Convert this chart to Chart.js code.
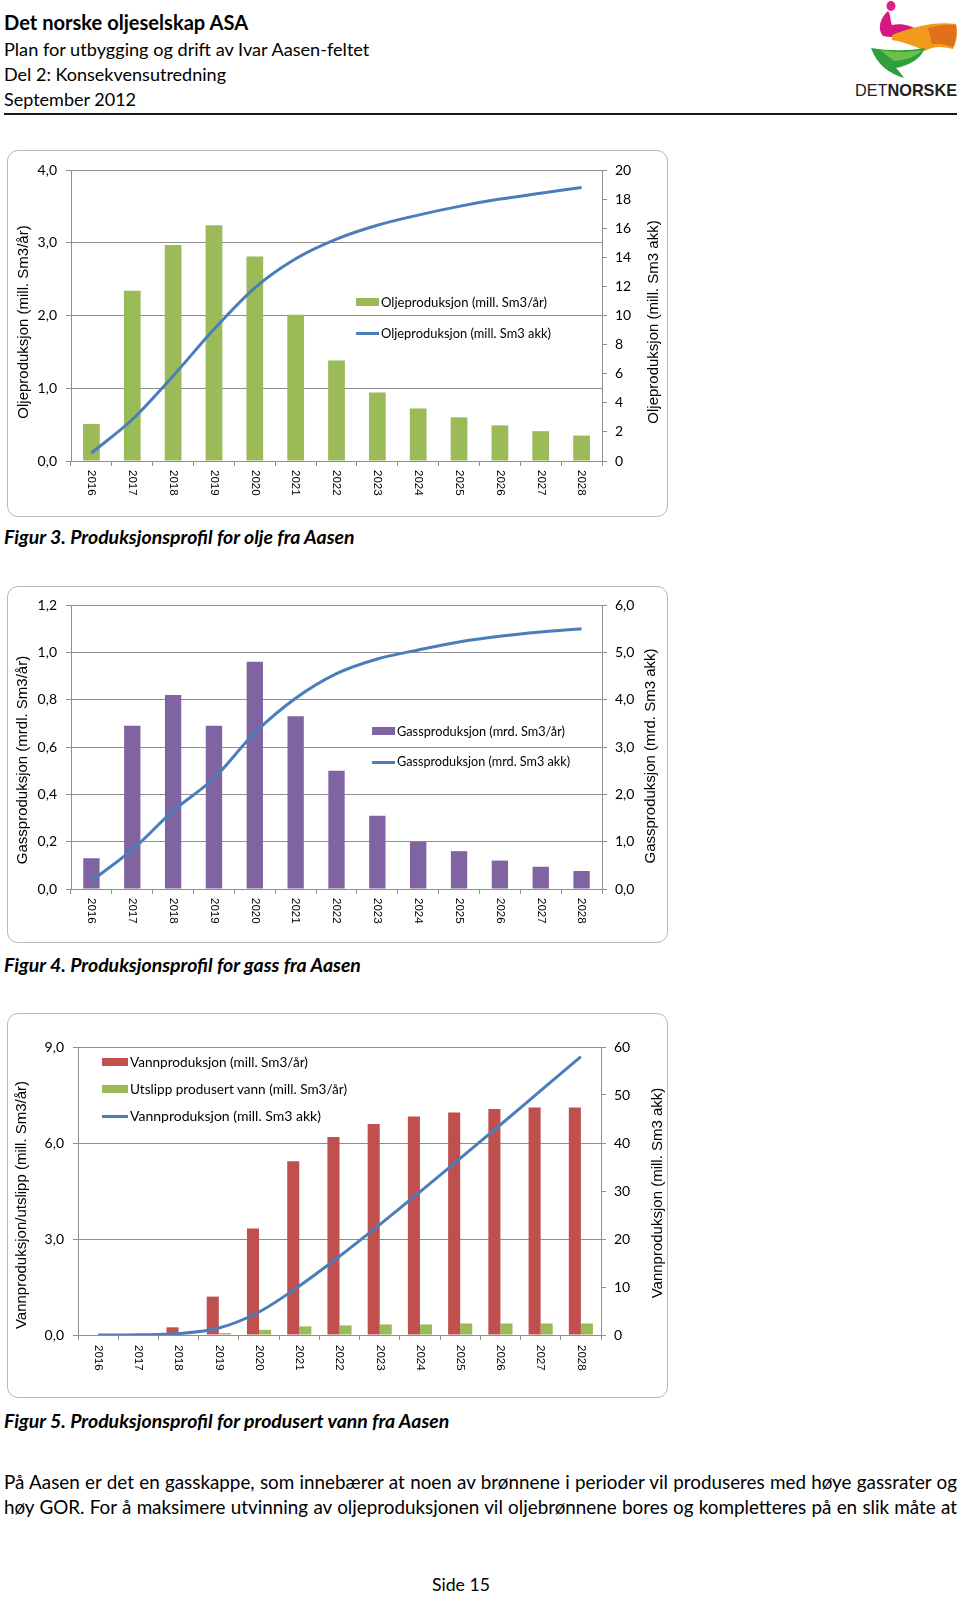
<!DOCTYPE html>
<html><head><meta charset="utf-8">
<script src="https://cdn.jsdelivr.net/npm/chart.js@4.4.0/dist/chart.umd.min.js"></script>
<style>
body{margin:0;width:960px;height:1597px;background:#fff;position:relative;overflow:hidden;font-family:Lato,"Open Sans",sans-serif;color:#000}
.t{position:absolute;white-space:nowrap;line-height:1}
.box{position:absolute;border:1.5px solid #b8b8b8;border-radius:11px;box-sizing:border-box}
canvas{position:absolute}
.sw{position:absolute}
.lt{position:absolute;white-space:nowrap;font-size:14px;line-height:16px}
.cap{font-weight:bold;font-style:italic;font-size:18px}
.par{position:absolute;left:4px;width:953px;font-size:18px;line-height:20px;white-space:nowrap;text-align:left}
.par.j{text-align:justify;text-align-last:justify}
</style>
</head><body>

<div class="t" data-w="244" style="left:4px;top:12px;font-size:21px;font-weight:bold">Det norske oljeselskap ASA</div>
<div class="t" data-w="365" style="left:4px;top:40px;font-size:18px">Plan for utbygging og drift av Ivar Aasen-feltet</div>
<div class="t" data-w="222" style="left:4px;top:65px;font-size:18px">Del 2: Konsekvensutredning</div>
<div class="t" data-w="132" style="left:4px;top:90px;font-size:18px">September 2012</div>
<div style="position:absolute;left:4px;top:113px;width:953px;height:2px;background:#1a1a1a"></div>

<svg style="position:absolute;left:840px;top:0" width="120" height="82" viewBox="0 0 120 82">
  <ellipse cx="51" cy="6" rx="4.5" ry="5" fill="#e0218a"/>
  <path d="M48 11 C40 18 37 29 43 36 C54 39 68 35 79 31 C72 25 60 23 52 25 C50 20 51 15 48 11 Z" fill="#d6177f"/>
  <path d="M52 35 C70 28 92 21 116 24 C118 32 117 41 113 49 C102 46 93 46 85 51 C75 46 64 42 52 40 Z" fill="#f29a1d"/>
  <path d="M88 28 C98 25 108 24 116 25 C117 33 116 41 113 47 C106 44 98 43 92 44 Z" fill="#e0701b"/>
  <path d="M31 48 C50 51 68 51 85 48 C81 58 71 65 56 68 C60 72 62 75 64 78 C50 74 37 65 31 48 Z" fill="#2f9e3e"/>
  <path d="M40 50 C56 53 70 52 82 50 C76 57 66 60 54 61 Z" fill="#6cc04a"/>
</svg>
<div class="t" data-w="102" style="left:855px;top:82px;font-size:15.5px;font-family:'Liberation Sans',Arial,sans-serif;color:#222">DET<b>NORSKE</b></div>

<div class="box" style="left:7px;top:150px;width:661px;height:367px"></div>
<canvas id="c1" width="660" height="365" style="left:8px;top:151px"></canvas>
<div class="t cap" data-w="351" style="left:4px;top:527px">Figur 3. Produksjonsprofil for olje fra Aasen</div>

<div class="box" style="left:7px;top:586px;width:661px;height:357px"></div>
<canvas id="c2" width="660" height="355" style="left:8px;top:587px"></canvas>
<div class="t cap" data-w="357" style="left:4px;top:955px">Figur 4. Produksjonsprofil for gass fra Aasen</div>

<div class="box" style="left:7px;top:1013px;width:661px;height:385px"></div>
<canvas id="c3" width="660" height="383" style="left:8px;top:1014px"></canvas>
<div class="t cap" data-w="445" style="left:4px;top:1411px">Figur 5. Produksjonsprofil for produsert vann fra Aasen</div>

<div class="par" style="top:1472px"><span>På Aasen er det en gasskappe, som innebærer at noen av brønnene i perioder vil produseres med høye gassrater og</span></div>
<div class="par" style="top:1497px"><span>høy GOR. For å maksimere utvinning av oljeproduksjonen vil oljebrønnene bores og kompletteres på en slik måte at</span></div>
<div class="t" data-w="58" style="left:432px;top:1576px;font-size:18px">Side 15</div>

<div id="legends"></div>

<script>
// ---- data ----
const years = ['2016','2017','2018','2019','2020','2021','2022','2023','2024','2025','2026','2027','2028'];
const oilAnnual = [0.51, 2.34, 2.97, 3.24, 2.81, 2.01, 1.38, 0.94, 0.72, 0.60, 0.49, 0.41, 0.35];
const oilCum    = [0.55, 2.85, 5.85, 9.05, 11.9, 13.9, 15.25, 16.2, 16.9, 17.5, 18.0, 18.4, 18.8];
const gasAnnual = [0.13, 0.69, 0.82, 0.69, 0.96, 0.73, 0.50, 0.31, 0.20, 0.16, 0.12, 0.094, 0.076];
const gasCum    = [0.17, 0.83, 1.65, 2.34, 3.3, 4.03, 4.55, 4.86, 5.05, 5.22, 5.34, 5.43, 5.5];
const waterAnnual    = [0, 0, 0.24, 1.20, 3.33, 5.43, 6.19, 6.59, 6.83, 6.95, 7.06, 7.11, 7.11];
const waterDischarge = [0, 0, 0.01, 0.06, 0.16, 0.27, 0.30, 0.33, 0.33, 0.36, 0.36, 0.36, 0.36];
const waterCum       = [0, 0.05, 0.3, 1.45, 4.8, 10.2, 16.4, 23.0, 29.8, 36.8, 43.8, 50.9, 58.0];

const labels = {
  oilA: 'Oljeproduksjon (mill. Sm3/år)', oilC: 'Oljeproduksjon (mill. Sm3 akk)',
  gasA: 'Gassproduksjon (mrd. Sm3/år)', gasC: 'Gassproduksjon (mrd. Sm3 akk)',
  watA: 'Vannproduksjon (mill. Sm3/år)', watD: 'Utslipp produsert vann (mill. Sm3/år)', watC: 'Vannproduksjon (mill. Sm3 akk)'
};

const GREEN='#9BBB59', PURPLE='#8064A2', RED='#C0504D', BLUE='#4A7EBB', GRID='#8f8f8f';
const CAL = "Lato,'Open Sans',sans-serif";
const ARIAL = "'Liberation Sans',Arial,sans-serif";
const f1 = v => Number(v).toFixed(1).replace('.', ',');
const f0 = v => String(Math.round(v));

const decor = {
  id:'decor',
  afterDraw(chart, args, o){
    const ctx = chart.ctx, xs = chart.scales.x, ca = chart.chartArea;
    ctx.save();
    ctx.fillStyle = '#000';
    ctx.font = '11.5px ' + ARIAL;
    ctx.textAlign = 'left'; ctx.textBaseline = 'middle';
    chart.data.labels.forEach((lab, i) => {
      ctx.save();
      ctx.translate(xs.getPixelForValue(i), ca.bottom + o.gap);
      ctx.rotate(Math.PI / 2);
      ctx.fillText(lab, 0, 0);
      ctx.restore();
    });
    ctx.font = '15px ' + ARIAL;
    ctx.textAlign = 'center';
    [[o.lt, o.lx, o.ly], [o.rt, o.rx, o.ry]].forEach(([t, x, y]) => {
      ctx.save(); ctx.translate(x, y); ctx.rotate(-Math.PI / 2); ctx.fillText(t, 0, 0); ctx.restore();
    });
    ctx.restore();
  }
};

function build(id, datasets, p){
  new Chart(document.getElementById(id), {
    type: 'bar',
    data: { labels: years, datasets },
    options: {
      responsive:false, animation:false, devicePixelRatio:1,
      layout:{ padding:{ top:p.top, left:0, right:0, bottom:0 } },
      plugins:{ legend:{display:false}, tooltip:{enabled:false}, decor:p.decor },
      scales:{
        x:{ offset:true, grid:{ offset:true, drawOnChartArea:false, drawTicks:true, tickLength:5, color:GRID },
            border:{ color:GRID }, ticks:{ display:false }, afterFit(s){ s.height = p.xh; } },
        y:{ position:'left', min:0, max:p.lmax,
            ticks:{ stepSize:p.lstep, callback:p.lfmt, font:{family:CAL, size:14}, color:'#000', padding:9 },
            grid:{ color:GRID, tickLength:5 }, border:{ color:GRID }, afterFit(s){ s.width = p.lw; } },
        y2:{ position:'right', min:0, max:p.rmax,
            ticks:{ stepSize:p.rstep, callback:p.rfmt, font:{family:CAL, size:14}, color:'#000', padding:8 },
            grid:{ drawOnChartArea:false, color:GRID, tickLength:5 }, border:{ color:GRID }, afterFit(s){ s.width = p.rw; } }
      }
    },
    plugins:[decor]
  });
}

const lineDs = (label, data) => ({ type:'line', label, data, yAxisID:'y2', borderColor:BLUE, borderWidth:3,
  pointRadius:0, cubicInterpolationMode:'monotone', order:0 });

build('c1', [
  { label:labels.oilA, data:oilAnnual, backgroundColor:GREEN, yAxisID:'y', barPercentage:0.41, categoryPercentage:1, order:1 },
  lineDs(labels.oilC, oilCum)
], { top:19, xh:55, lw:63, rw:66, lmax:4, lstep:1, lfmt:f1, rmax:20, rstep:2, rfmt:f0,
     decor:{ gap:9, lt:'Oljeproduksjon (mill. Sm3/år)', lx:16, ly:171, rt:'Oljeproduksjon (mill. Sm3 akk)', rx:646, ry:171 } });

build('c2', [
  { label:labels.gasA, data:gasAnnual, backgroundColor:PURPLE, yAxisID:'y', barPercentage:0.4, categoryPercentage:1, order:1 },
  lineDs(labels.gasC, gasCum)
], { top:18, xh:53, lw:63, rw:66, lmax:1.2, lstep:0.2, lfmt:f1, rmax:6, rstep:1, rfmt:f1,
     decor:{ gap:9, lt:'Gassproduksjon (mrdl. Sm3/år)', lx:15, ly:173, rt:'Gassproduksjon (mrd. Sm3 akk)', rx:643, ry:169 } });

build('c3', [
  { label:labels.watA, data:waterAnnual, backgroundColor:RED, yAxisID:'y', barPercentage:1, categoryPercentage:0.6, order:1 },
  { label:labels.watD, data:waterDischarge, backgroundColor:GREEN, yAxisID:'y', barPercentage:1, categoryPercentage:0.6, order:1 },
  lineDs(labels.watC, waterCum)
], { top:33, xh:62, lw:70, rw:67, lmax:9, lstep:3, lfmt:f1, rmax:60, rstep:10, rfmt:f0,
     decor:{ gap:10, lt:'Vannproduksjon/utslipp (mill. Sm3/år)', lx:14, ly:191, rt:'Vannproduksjon (mill. Sm3 akk)', rx:650, ry:179 } });

// legends (HTML, inside plot areas)
const legendRows = [
  { x:356, w:23, y:302, kind:'bar', color:GREEN, text:labels.oilA, tw:166 },
  { x:356, w:23, y:333, kind:'line', color:BLUE, text:labels.oilC, tw:170 },
  { x:372, w:23, y:731, kind:'bar', color:PURPLE, text:labels.gasA, tw:168 },
  { x:372, w:23, y:762, kind:'line', color:BLUE, text:labels.gasC, tw:173 },
  { x:102, w:26, y:1062, kind:'bar', color:RED, text:labels.watA, tw:178 },
  { x:102, w:26, y:1089, kind:'bar', color:GREEN, text:labels.watD, tw:217 },
  { x:102, w:26, y:1116, kind:'line', color:BLUE, text:labels.watC, tw:191 }
];
const lg = document.getElementById('legends');
legendRows.forEach(r => {
  const h = r.kind === 'bar' ? 8 : 3;
  const s = document.createElement('div');
  s.className = 'sw';
  s.style.cssText = `left:${r.x}px;top:${r.y - h/2}px;width:${r.w}px;height:${h}px;background:${r.color}`;
  lg.appendChild(s);
  const t = document.createElement('div');
  t.className = 'lt';
  t.dataset.w = r.tw;
  t.style.left = (r.x + r.w + 2) + 'px';
  t.style.top = (r.y - 8) + 'px';
  t.textContent = r.text;
  lg.appendChild(t);
});

// fit text widths to the reference layout
document.querySelectorAll('[data-w]').forEach(el => {
  const target = +el.dataset.w;
  let fs = parseFloat(getComputedStyle(el).fontSize);
  for (let k = 0; k < 3; k++) {
    const w = el.getBoundingClientRect().width;
    fs *= target / w;
    el.style.fontSize = fs.toFixed(2) + 'px';
  }
});
const pars = [...document.querySelectorAll('.par')];
let ps = 99;
pars.forEach(p => {
  const w = p.firstChild.getBoundingClientRect().width;
  ps = Math.min(ps, 18 * 945 / w);
});
pars.forEach(p => { p.style.fontSize = ps.toFixed(2) + 'px'; p.classList.add('j'); });
</script>
</body></html>
